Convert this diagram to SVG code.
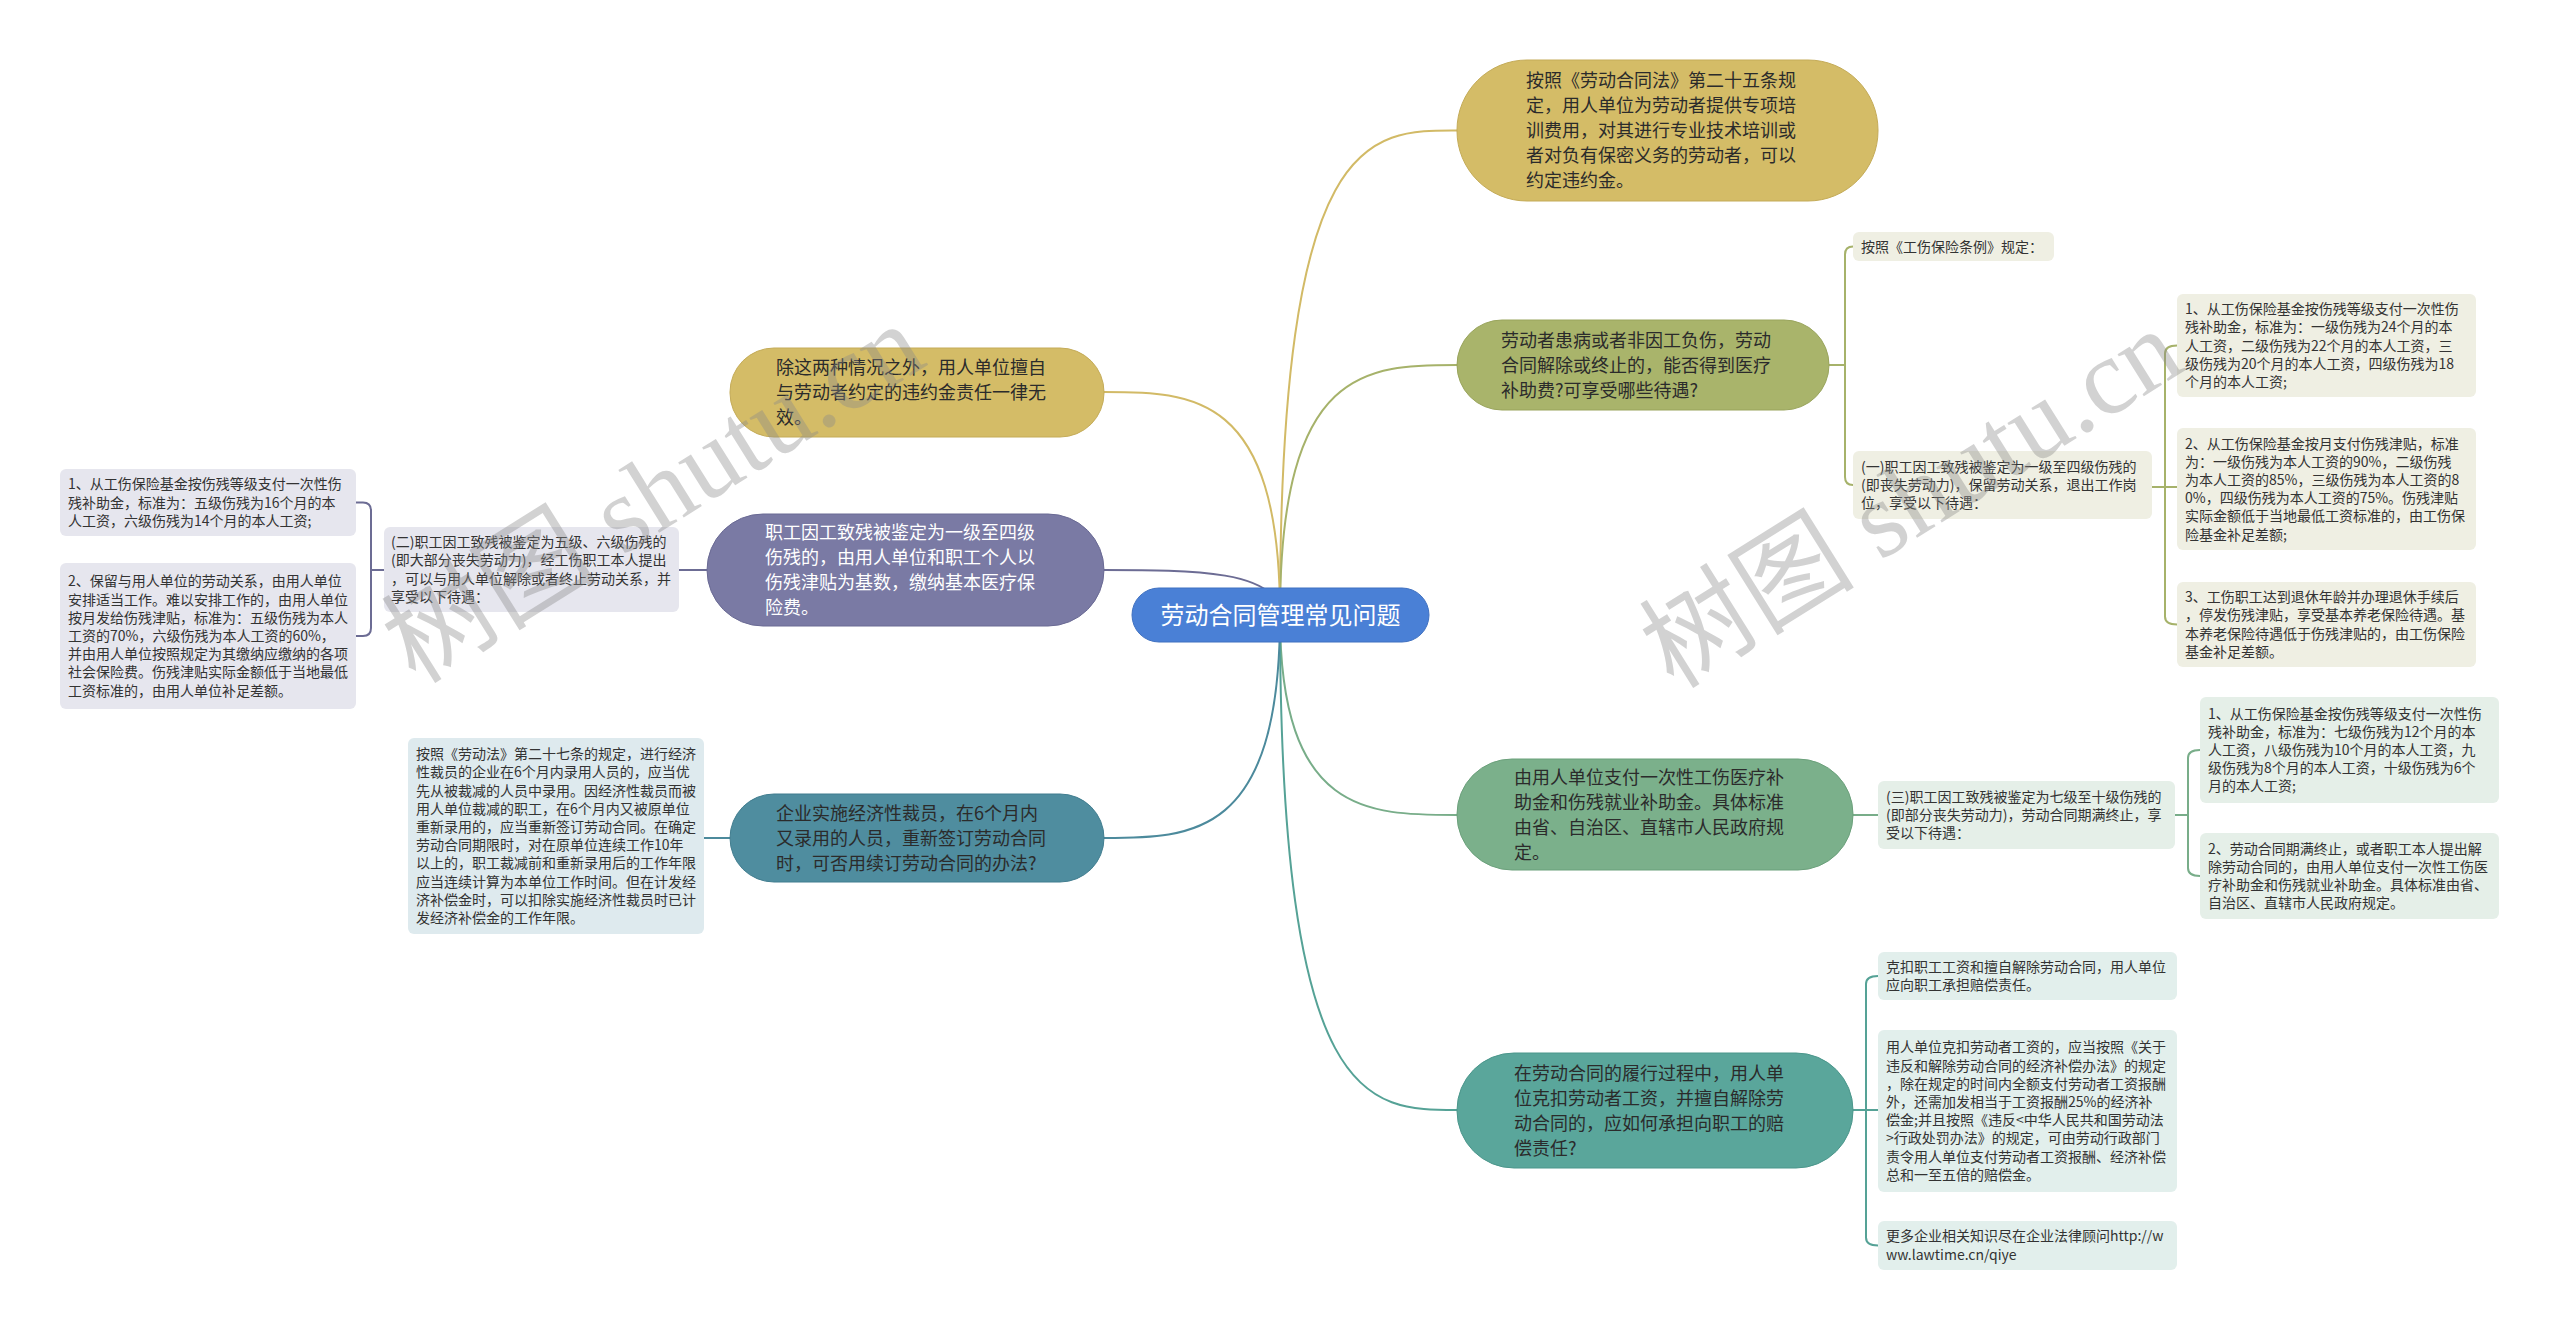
<svg xmlns="http://www.w3.org/2000/svg" width="2560" height="1333" viewBox="0 0 2560 1333">
<style>
text{font-family:"Noto Sans CJK SC","Noto Sans",sans-serif;}
.nt{font-size:18px;fill:#2b2b2b;}
.nw{font-size:18px;fill:#ffffff;}
.lt{font-size:14px;fill:#333333;}
.c{fill:none;stroke-width:2;}
.gold{stroke:#d2ba66;} .olive{stroke:#a6b26a;} .green{stroke:#78ad89;} .teal{stroke:#55a296;} .purple{stroke:#6c6c94;} .tb{stroke:#4c8a9c;}
.wm{font-family:"Liberation Serif","Noto Sans CJK SC",serif;font-size:108px;fill:#8a8a8a;opacity:0.38;}
</style>
<rect width="2560" height="1333" fill="#ffffff"/>
<g id="connectors">
<path class="c gold" d="M1280 615 C1280 130 1368 130 1457 130.5"/>
<path class="c olive" d="M1280 615 C1280 365 1368 365 1457 365"/>
<path class="c green" d="M1280 615 C1280 815 1368 815 1457 815"/>
<path class="c teal" d="M1280 615 C1280 1110 1368 1110 1457 1110"/>
<path class="c gold" d="M1280 615 C1280 392 1192 392 1104 392"/>
<path class="c purple" d="M1280 615 C1280 570 1192 570 1104 570"/>
<path class="c tb" d="M1280 615 C1280 838 1192 838 1104 838"/>
<path class="c olive" d="M1829 365 H1845 M1853 246.5 Q1845 246.5 1845 254.5 V477 Q1845 485 1853 485"/>
<path class="c olive" d="M2152 487 H2177 M2177 345.5 Q2165 345.5 2165 353.5 V616.5 Q2165 624.5 2177 624.5"/>
<path class="c green" d="M1853 815 H1878 M2175 815 H2188 M2200 750 Q2188 750 2188 758 V868 Q2188 876 2200 876"/>
<path class="c teal" d="M1853 1110 H1878 M1878 976 Q1866 976 1866 984 V1237.5 Q1866 1245.5 1878 1245.5"/>
<path class="c purple" d="M707 570 H679 M384 570 H371 M356 502.5 H363 Q371 502.5 371 510.5 V628 Q371 636 363 636 H356"/>
<path class="c tb" d="M730 838 H704"/>
</g>
<g id="root">
<rect x="1132" y="588" width="297" height="54" rx="27" fill="#4a80d6" stroke="#3f70c0" stroke-width="1"/>
<text x="1280.5" y="623.5" text-anchor="middle" style="font-size:24px;fill:#ffffff">劳动合同管理常见问题</text>
</g>
<g id="n1">
<rect x="1457" y="60" width="421" height="141" rx="70" fill="#d4bc67" stroke="#c4ab58" stroke-width="1"/>
<text class="nt" x="1526" y="87"><tspan x="1526">按照《劳动合同法》第二十五条规</tspan><tspan x="1526" dy="25">定，用人单位为劳动者提供专项培</tspan><tspan x="1526" dy="25">训费用，对其进行专业技术培训或</tspan><tspan x="1526" dy="25">者对负有保密义务的劳动者，可以</tspan><tspan x="1526" dy="25">约定违约金。</tspan></text>
</g>
<g id="n2">
<rect x="1457" y="320" width="372" height="90" rx="45" fill="#a9b46b" stroke="#99a45c" stroke-width="1"/>
<text class="nt" x="1501" y="346.5"><tspan x="1501">劳动者患病或者非因工负伤，劳动</tspan><tspan x="1501" dy="25">合同解除或终止的，能否得到医疗</tspan><tspan x="1501" dy="25">补助费?可享受哪些待遇?</tspan></text>
</g>
<g id="n3">
<rect x="1457" y="759" width="396" height="111" rx="55" fill="#7bb08b" stroke="#6ba07b" stroke-width="1"/>
<text class="nt" x="1514" y="783.5"><tspan x="1514">由用人单位支付一次性工伤医疗补</tspan><tspan x="1514" dy="25">助金和伤残就业补助金。具体标准</tspan><tspan x="1514" dy="25">由省、自治区、直辖市人民政府规</tspan><tspan x="1514" dy="25">定。</tspan></text>
</g>
<g id="n4">
<rect x="1457" y="1053" width="396" height="115" rx="57" fill="#5aa69b" stroke="#4b968b" stroke-width="1"/>
<text class="nt" x="1514" y="1079.5"><tspan x="1514">在劳动合同的履行过程中，用人单</tspan><tspan x="1514" dy="25">位克扣劳动者工资，并擅自解除劳</tspan><tspan x="1514" dy="25">动合同的，应如何承担向职工的赔</tspan><tspan x="1514" dy="25">偿责任?</tspan></text>
</g>
<g id="n5">
<rect x="730" y="348" width="374" height="89" rx="44" fill="#d4bc67" stroke="#c4ab58" stroke-width="1"/>
<text class="nt" x="776" y="374"><tspan x="776">除这两种情况之外，用人单位擅自</tspan><tspan x="776" dy="25">与劳动者约定的违约金责任一律无</tspan><tspan x="776" dy="25">效。</tspan></text>
</g>
<g id="n6">
<rect x="707" y="514" width="397" height="112" rx="56" fill="#7a7aa4" stroke="#6a6a94" stroke-width="1"/>
<text class="nw" x="765" y="539"><tspan x="765">职工因工致残被鉴定为一级至四级</tspan><tspan x="765" dy="25">伤残的，由用人单位和职工个人以</tspan><tspan x="765" dy="25">伤残津贴为基数，缴纳基本医疗保</tspan><tspan x="765" dy="25">险费。</tspan></text>
</g>
<g id="n7">
<rect x="730" y="794" width="374" height="88" rx="44" fill="#4f8d9f" stroke="#417d8f" stroke-width="1"/>
<text class="nt" x="776" y="819.5"><tspan x="776">企业实施经济性裁员，在6个月内</tspan><tspan x="776" dy="25">又录用的人员，重新签订劳动合同</tspan><tspan x="776" dy="25">时，可否用续订劳动合同的办法?</tspan></text>
</g>
<g id="l0">
<rect x="1853" y="232" width="201" height="29" rx="6" fill="#efefe3"/>
<text class="lt" x="1861" y="251.5">按照《工伤保险条例》规定：</text>
</g>
<g id="l1">
<rect x="1853" y="451" width="299" height="68" rx="6" fill="#efefe3"/>
<text class="lt" x="1861" y="471.8"><tspan x="1861">(一)职工因工致残被鉴定为一级至四级伤残的</tspan><tspan x="1861" dy="18.2">(即丧失劳动力)，保留劳动关系，退出工作岗</tspan><tspan x="1861" dy="18.2">位，享受以下待遇：</tspan></text>
</g>
<g id="la">
<rect x="2177" y="294" width="299" height="103" rx="6" fill="#efefe3"/>
<text class="lt" x="2185" y="314.1"><tspan x="2185">1、从工伤保险基金按伤残等级支付一次性伤</tspan><tspan x="2185" dy="18.2">残补助金，标准为：一级伤残为24个月的本</tspan><tspan x="2185" dy="18.2">人工资，二级伤残为22个月的本人工资，三</tspan><tspan x="2185" dy="18.2">级伤残为20个月的本人工资，四级伤残为18</tspan><tspan x="2185" dy="18.2">个月的本人工资;</tspan></text>
</g>
<g id="lb">
<rect x="2177" y="428" width="299" height="122" rx="6" fill="#efefe3"/>
<text class="lt" x="2185" y="448.5"><tspan x="2185">2、从工伤保险基金按月支付伤残津贴，标准</tspan><tspan x="2185" dy="18.2">为：一级伤残为本人工资的90%，二级伤残</tspan><tspan x="2185" dy="18.2">为本人工资的85%，三级伤残为本人工资的8</tspan><tspan x="2185" dy="18.2">0%，四级伤残为本人工资的75%。伤残津贴</tspan><tspan x="2185" dy="18.2">实际金额低于当地最低工资标准的，由工伤保</tspan><tspan x="2185" dy="18.2">险基金补足差额;</tspan></text>
</g>
<g id="lc">
<rect x="2177" y="582" width="299" height="85" rx="6" fill="#efefe3"/>
<text class="lt" x="2185" y="602.2"><tspan x="2185">3、工伤职工达到退休年龄并办理退休手续后</tspan><tspan x="2185" dy="18.2">，停发伤残津贴，享受基本养老保险待遇。基</tspan><tspan x="2185" dy="18.2">本养老保险待遇低于伤残津贴的，由工伤保险</tspan><tspan x="2185" dy="18.2">基金补足差额。</tspan></text>
</g>
<g id="l3">
<rect x="1878" y="781" width="297" height="68" rx="6" fill="#e5efe8"/>
<text class="lt" x="1886" y="801.8"><tspan x="1886">(三)职工因工致残被鉴定为七级至十级伤残的</tspan><tspan x="1886" dy="18.2">(即部分丧失劳动力)，劳动合同期满终止，享</tspan><tspan x="1886" dy="18.2">受以下待遇：</tspan></text>
</g>
<g id="ld">
<rect x="2200" y="697" width="299" height="106" rx="6" fill="#e5efe8"/>
<text class="lt" x="2208" y="718.6"><tspan x="2208">1、从工伤保险基金按伤残等级支付一次性伤</tspan><tspan x="2208" dy="18.2">残补助金，标准为：七级伤残为12个月的本</tspan><tspan x="2208" dy="18.2">人工资，八级伤残为10个月的本人工资，九</tspan><tspan x="2208" dy="18.2">级伤残为8个月的本人工资，十级伤残为6个</tspan><tspan x="2208" dy="18.2">月的本人工资;</tspan></text>
</g>
<g id="le">
<rect x="2200" y="833" width="299" height="86" rx="6" fill="#e5efe8"/>
<text class="lt" x="2208" y="853.7"><tspan x="2208">2、劳动合同期满终止，或者职工本人提出解</tspan><tspan x="2208" dy="18.2">除劳动合同的，由用人单位支付一次性工伤医</tspan><tspan x="2208" dy="18.2">疗补助金和伤残就业补助金。具体标准由省、</tspan><tspan x="2208" dy="18.2">自治区、直辖市人民政府规定。</tspan></text>
</g>
<g id="lf">
<rect x="1878" y="952" width="299" height="48" rx="6" fill="#e2efec"/>
<text class="lt" x="1886" y="971.9"><tspan x="1886">克扣职工工资和擅自解除劳动合同，用人单位</tspan><tspan x="1886" dy="18.2">应向职工承担赔偿责任。</tspan></text>
</g>
<g id="lg">
<rect x="1878" y="1030" width="299" height="162" rx="6" fill="#e2efec"/>
<text class="lt" x="1886" y="1052.3"><tspan x="1886">用人单位克扣劳动者工资的，应当按照《关于</tspan><tspan x="1886" dy="18.2">违反和解除劳动合同的经济补偿办法》的规定</tspan><tspan x="1886" dy="18.2">，除在规定的时间内全额支付劳动者工资报酬</tspan><tspan x="1886" dy="18.2">外，还需加发相当于工资报酬25%的经济补</tspan><tspan x="1886" dy="18.2">偿金;并且按照《违反&lt;中华人民共和国劳动法</tspan><tspan x="1886" dy="18.2">&gt;行政处罚办法》的规定，可由劳动行政部门</tspan><tspan x="1886" dy="18.2">责令用人单位支付劳动者工资报酬、经济补偿</tspan><tspan x="1886" dy="18.2">总和一至五倍的赔偿金。</tspan></text>
</g>
<g id="lh">
<rect x="1878" y="1221" width="299" height="49" rx="6" fill="#e2efec"/>
<text class="lt" x="1886" y="1241.4"><tspan x="1886">更多企业相关知识尽在企业法律顾问http://w</tspan><tspan x="1886" dy="18.2">ww.lawtime.cn/qiye</tspan></text>
</g>
<g id="l2">
<rect x="384" y="527" width="295" height="85" rx="6" fill="#e6e6ee"/>
<text class="lt" x="391" y="547.2"><tspan x="391">(二)职工因工致残被鉴定为五级、六级伤残的</tspan><tspan x="391" dy="18.2">(即大部分丧失劳动力)，经工伤职工本人提出</tspan><tspan x="391" dy="18.2">，可以与用人单位解除或者终止劳动关系，并</tspan><tspan x="391" dy="18.2">享受以下待遇：</tspan></text>
</g>
<g id="li">
<rect x="60" y="469" width="296" height="67" rx="6" fill="#e6e6ee"/>
<text class="lt" x="68" y="489.3"><tspan x="68">1、从工伤保险基金按伤残等级支付一次性伤</tspan><tspan x="68" dy="18.2">残补助金，标准为：五级伤残为16个月的本</tspan><tspan x="68" dy="18.2">人工资，六级伤残为14个月的本人工资;</tspan></text>
</g>
<g id="lj">
<rect x="60" y="563" width="296" height="146" rx="6" fill="#e6e6ee"/>
<text class="lt" x="68" y="586.4"><tspan x="68">2、保留与用人单位的劳动关系，由用人单位</tspan><tspan x="68" dy="18.2">安排适当工作。难以安排工作的，由用人单位</tspan><tspan x="68" dy="18.2">按月发给伤残津贴，标准为：五级伤残为本人</tspan><tspan x="68" dy="18.2">工资的70%，六级伤残为本人工资的60%，</tspan><tspan x="68" dy="18.2">并由用人单位按照规定为其缴纳应缴纳的各项</tspan><tspan x="68" dy="18.2">社会保险费。伤残津贴实际金额低于当地最低</tspan><tspan x="68" dy="18.2">工资标准的，由用人单位补足差额。</tspan></text>
</g>
<g id="lk">
<rect x="408" y="738" width="296" height="196" rx="6" fill="#deeaee"/>
<text class="lt" x="416" y="759.1"><tspan x="416">按照《劳动法》第二十七条的规定，进行经济</tspan><tspan x="416" dy="18.2">性裁员的企业在6个月内录用人员的，应当优</tspan><tspan x="416" dy="18.2">先从被裁减的人员中录用。因经济性裁员而被</tspan><tspan x="416" dy="18.2">用人单位裁减的职工，在6个月内又被原单位</tspan><tspan x="416" dy="18.2">重新录用的，应当重新签订劳动合同。在确定</tspan><tspan x="416" dy="18.2">劳动合同期限时，对在原单位连续工作10年</tspan><tspan x="416" dy="18.2">以上的，职工裁减前和重新录用后的工作年限</tspan><tspan x="416" dy="18.2">应当连续计算为本单位工作时间。但在计发经</tspan><tspan x="416" dy="18.2">济补偿金时，可以扣除实施经济性裁员时已计</tspan><tspan x="416" dy="18.2">发经济补偿金的工作年限。</tspan></text>
</g>
<g id="watermark">
<text class="wm" x="653" y="530" text-anchor="middle" transform="rotate(-32 653 493)">树图 shutu.cn</text>
<text class="wm" x="1911" y="535" text-anchor="middle" transform="rotate(-32 1911 498)">树图 shutu.cn</text>
</g>
</svg>
